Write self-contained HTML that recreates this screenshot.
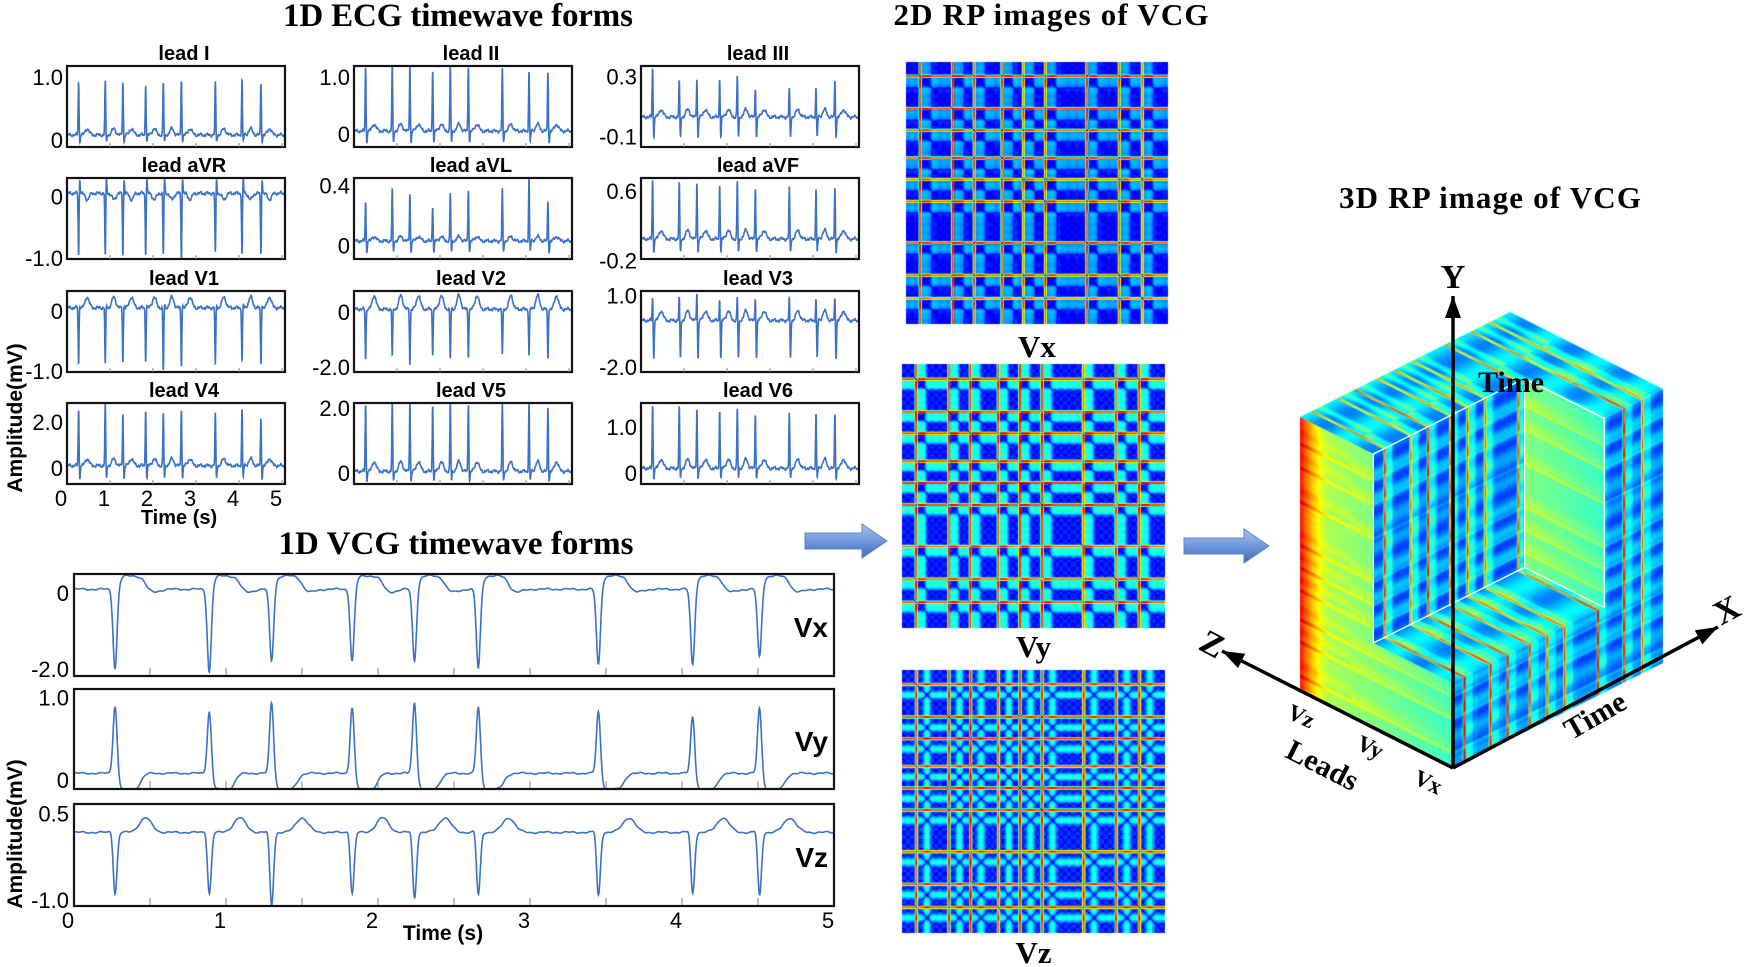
<!DOCTYPE html>
<html><head><meta charset="utf-8">
<style>
html,body{margin:0;padding:0;background:#fff;}
#wrap{position:relative;width:1748px;height:967px;overflow:hidden;background:#fff;}
canvas,svg{position:absolute;left:0;top:0;}
text{font-family:"Liberation Sans",sans-serif;}
.serif{font-family:"Liberation Serif",serif;font-weight:bold;}
</style></head>
<body>
<div id="wrap">
<canvas id="cv" width="1748" height="967"></canvas>
<svg id="sv" width="1748" height="967" xmlns="http://www.w3.org/2000/svg">
<defs>
<linearGradient id="arrowGrad" x1="0" y1="0" x2="0" y2="1">
<stop offset="0" stop-color="#a9c4ee"/><stop offset="0.5" stop-color="#6f97da"/><stop offset="1" stop-color="#3f6bb8"/>
</linearGradient>
</defs>
<text class="serif" x="458" y="26" font-size="33" text-anchor="middle" textLength="350">1D ECG timewave forms</text>
<text class="serif" x="456" y="554" font-size="33" text-anchor="middle" textLength="355">1D VCG timewave forms</text>
<text class="serif" x="1051" y="25" font-size="31" text-anchor="middle" textLength="315">2D RP images of VCG</text>
<text class="serif" x="1490" y="208" font-size="31" text-anchor="middle" textLength="302">3D RP image of VCG</text>
<g id="ecg"></g><g id="vcg"></g><g id="cube"></g>
</svg>
</div>
<script>
// ---------- data ----------
const beats = [0.27, 0.89, 1.30, 1.83, 2.24, 2.66, 3.45, 4.07, 4.51];
const leadNames = ["lead I","lead II","lead III","lead aVR","lead aVL","lead aVF","lead V1","lead V2","lead V3","lead V4","lead V5","lead V6"];
const peaksI   = [0.93,0.94,0.92,0.90,0.90,0.96,0.92,0.96,0.90];
const peaksII  = [1.20,1.20,1.20,1.15,1.20,1.20,1.15,1.10,1.10];
const peaksIII = [0.37,0.28,0.29,0.30,0.31,0.23,0.22,0.23,0.28];
const peaksAVR = [-0.97,-0.98,-0.97,-0.95,-0.96,-1.0,-0.96,-0.97,-0.95];
const peaksAVL = [0.30,0.38,0.35,0.27,0.35,0.38,0.38,0.45,0.30];
const peaksAVF = [0.75,0.70,0.70,0.70,0.72,0.65,0.65,0.63,0.65];
const peaksV1  = [-0.88,-0.90,-0.85,-0.82,-1.0,-0.90,-0.93,-0.85,-0.90];
const peaksV2  = [-1.7,-1.6,-1.9,-1.5,-1.7,-1.6,-1.6,-1.6,-1.7];
const peaksV3  = [1.0,1.0,1.18,0.95,1.0,0.95,0.95,0.9,0.95];
const peaksV4  = [2.6,2.8,2.4,2.6,2.4,2.6,2.4,2.6,2.2];
const peaksV5  = [2.15,2.15,2.15,2.15,2.15,2.15,2.15,2.15,2.05];
const peaksV6  = [1.5,1.45,1.4,1.4,1.4,1.3,1.3,1.3,1.3];
const leadPeaks = [peaksI,peaksII,peaksIII,peaksAVR,peaksAVL,peaksAVF,peaksV1,peaksV2,peaksV3,peaksV4,peaksV5,peaksV6];
const leadBase  = [0.08,0.05,0.03,0.05,0.03,0.05,0.05,0.1,-0.05,0.1,0.05,0.1];
const leadS     = [-0.12,-0.22,-0.14,0.25,-0.08,-0.16,0.05,0,-1.6,-0.6,-0.33,-0.24];
const leadT     = [0.1,0.12,0.05,-0.1,0.03,0.1,0.18,0.5,0.4,0.3,0.3,0.2];
const leadMin   = [-0.11,-0.23,-0.17,-1.02,-0.09,-0.18,-1.02,-2.18,-2.2,-0.7,-0.34,-0.24];
const leadMax   = [1.17,1.19,0.37,0.30,0.45,0.75,0.33,0.76,1.18,2.83,2.15,1.52];
const leadTickA = [0,0,-0.1,-1.0,0,-0.2,-1.0,-2.0,-2.0,0,0,0];
const leadTickB = [1.0,1.0,0.3,0,0.4,0.6,0,0,1.0,2.0,2.0,1.0];
const leadTickLabA = ["0","0","-0.1","-1.0","0","-0.2","-1.0","-2.0","-2.0","0","0","0"];
const leadTickLabB = ["1.0","1.0","0.3","0","0.4","0.6","0","0","1.0","2.0","2.0","1.0"];
const ecgXTicks = [0,1,2,3,4,5];

const vcgNames = ["Vx","Vy","Vz"];
const peaksVx = [-2.0,-2.1,-1.8,-1.8,-1.8,-2.0,-1.9,-1.9,-1.7];
const peaksVy = [0.90,0.83,0.94,0.88,0.94,0.88,0.83,0.77,0.87];
const peaksVz = [-0.9,-0.9,-1.1,-0.9,-0.98,-0.92,-0.93,-0.9,-0.94];
const vcgPeaks = [peaksVx,peaksVy,peaksVz];
const vcgBase = [0.1,0.08,0.17];
const vcgPlateau = [0.35,-0.2,0];
const vcgT = [-0.08,0,0.25];
const vcgMin = [-2.18,-0.11,-1.1];
const vcgMax = [0.5,1.1,0.66];
const vcgTickA = [-2.0,0,-1.0];
const vcgTickB = [0,1.0,0.5];
const vcgTickLabA = ["-2.0","0","-1.0"];
const vcgTickLabB = ["0","1.0","0.5"];
const vcgXTicks = [0,1,2,3,4,5];

// ---------- signal model ----------
function gau(x,m,w){return Math.exp(-0.5*((x-m)/w)*((x-m)/w));}
function sg(x){return 1/(1+Math.exp(-x));}
function ecgVal(t,i){
  const base=leadBase[i], pk=leadPeaks[i], rng=leadMax[i]-leadMin[i];
  let v=base+rng*(0.012*Math.sin(t*37)+0.008*Math.sin(t*91+1)+0.006*Math.sin(t*173+2));
  for(let k=0;k<beats.length;k++){
    const dt=t-beats[k]; if(dt<-0.3||dt>0.6) continue;
    v+=(pk[k]-base)*gau(dt,0,0.010)+leadS[i]*gau(dt,0.026,0.011)+leadT[i]*gau(dt,0.2,0.045);
  }
  return v;
}
function vcgVal(t,i){
  const base=vcgBase[i], pk=vcgPeaks[i], rng=vcgMax[i]-vcgMin[i];
  let v=base+rng*(0.006*Math.sin(t*41)+0.004*Math.sin(t*113+1));
  for(let k=0;k<beats.length;k++){
    const dt=t-beats[k]; if(dt<-0.3||dt>0.7) continue;
    v+=(pk[k]-base)*gau(dt,0,0.013);
    if(i===0) v+=vcgPlateau[0]*sg((dt-0.03)/0.01)*sg((0.2-dt)/0.015)+vcgT[0]*gau(dt,0.25,0.04);
    if(i===1) v+=vcgPlateau[1]*sg((dt-0.025)/0.008)*sg((0.17-dt)/0.015);
    if(i===2) v+=vcgT[2]*gau(dt,0.2,0.04)+0.12*gau(dt,-0.02,0.01);
  }
  return v;
}

const NS="http://www.w3.org/2000/svg";
function mk(tag,attrs,parent,txt){const e=document.createElementNS(NS,tag);for(const k in attrs)e.setAttribute(k,attrs[k]);if(txt!==undefined)e.textContent=txt;parent.appendChild(e);return e;}
const svg=document.getElementById('sv');
const ecgG=document.getElementById('ecg');
const vcgG=document.getElementById('vcg');
const LINE="#3c72c6";

// ---------- ECG panels ----------
const colX=[67,354,641], rowY=[66,178,291,403], PW=218, PH=81, PXS=43;
for(let i=0;i<12;i++){
  const L=colX[i%3], T=rowY[Math.floor(i/3)];
  const yS=v=>T+PH-(v-leadMin[i])/(leadMax[i]-leadMin[i])*PH;
  const xS=t=>L+t*PXS;
  const cp=mk('clipPath',{id:'cp'+i},svg);
  mk('rect',{x:L,y:T,width:PW,height:PH},cp);
  let pts=[];
  for(let t=0;t<=PW/PXS;t+=0.004){pts.push(xS(t).toFixed(1)+","+yS(ecgVal(t,i)).toFixed(1));}
  const line=mk('polyline',{points:pts.join(" "),fill:"none",stroke:LINE,"stroke-width":1.6,"clip-path":"url(#cp"+i+")"},ecgG);
  
  
  const fr=mk('rect',{x:L,y:T,width:PW,height:PH,fill:"none",stroke:"#111","stroke-width":2.2},ecgG);
  
  
  const tt=mk('text',{x:L+PW/2+8,y:T-6,"font-size":20,"font-weight":"bold","text-anchor":"middle"},ecgG,leadNames[i]);
  
  
  const ta=mk('text',{x:L-4,y:yS(leadTickA[i])+8,"font-size":22,"text-anchor":"end"},ecgG,leadTickLabA[i]);
  
  
  const tb=mk('text',{x:L-4,y:yS(leadTickB[i])+8,"font-size":22,"text-anchor":"end"},ecgG,leadTickLabB[i]);
  
  
  for(let s=1;s<=5;s++){mk('line',{x1:xS(s),x2:xS(s),y1:T+PH,y2:T+PH-4,stroke:"#888","stroke-width":1},ecgG);}
  if(i===9){
    ecgXTicks.forEach(v=>{
      const xl=mk('text',{x:xS(v)-6,y:T+PH+22,"font-size":22,"text-anchor":"middle"},ecgG,String(v));
      
      
    });
  }
}
let ex=mk('text',{x:179,y:524,"font-size":20,"font-weight":"bold","text-anchor":"middle"},ecgG,"Time (s)");


let ey=mk('text',{x:0,y:0,"font-size":21,"font-weight":"bold","text-anchor":"middle",transform:"translate(22,418) rotate(-90)"},ecgG,"Amplitude(mV)");



// ---------- VCG panels ----------
const vL=74, vR=834, vTop=[574,689,804], vH=[102,100,102], vXS=(vR-vL)/5;
for(let i=0;i<3;i++){
  const T=vTop[i], H=vH[i];
  const yS=v=>T+H-(v-vcgMin[i])/(vcgMax[i]-vcgMin[i])*H;
  const xS=t=>vL+t*vXS;
  const cp=mk('clipPath',{id:'vcp'+i},svg);
  mk('rect',{x:vL,y:T,width:vR-vL,height:H},cp);
  let pts=[];
  for(let t=0;t<=5;t+=0.003){pts.push(xS(t).toFixed(1)+","+yS(vcgVal(t,i)).toFixed(1));}
  const line=mk('polyline',{points:pts.join(" "),fill:"none",stroke:LINE,"stroke-width":1.6,"clip-path":"url(#vcp"+i+")"},vcgG);
  
  
  for(let s=0.5;s<5;s+=0.5){mk('line',{x1:xS(s),x2:xS(s),y1:T+H,y2:T+H-8,stroke:"#999","stroke-width":1.2},vcgG);}
  const fr=mk('rect',{x:vL,y:T,width:vR-vL,height:H,fill:"none",stroke:"#111","stroke-width":2.2},vcgG);
  
  
  const ta=mk('text',{x:vL-5,y:yS(vcgTickA[i])+8,"font-size":22,"text-anchor":"end"},vcgG,vcgTickLabA[i]);
  
  
  const tb=mk('text',{x:vL-5,y:yS(vcgTickB[i])+8,"font-size":22,"text-anchor":"end"},vcgG,vcgTickLabB[i]);
  
  
  const nl=mk('text',{x:828,y:T+H/2+12,"font-size":28,"font-weight":"bold","text-anchor":"end"},vcgG,vcgNames[i]);
  
  
}
vcgXTicks.forEach(v=>{
  const xl=mk('text',{x:vL+v*vXS-6,y:928,"font-size":22,"text-anchor":"middle"},vcgG,String(v));
  
  
});
let vx=mk('text',{x:443,y:940,"font-size":21,"font-weight":"bold","text-anchor":"middle"},vcgG,"Time (s)");


let vy=mk('text',{x:0,y:0,"font-size":21,"font-weight":"bold","text-anchor":"middle",transform:"translate(22,834) rotate(-90)"},vcgG,"Amplitude(mV)");



// ---------- arrows ----------
function arrow(x0,x1,yc,name){
  const hx=x1-25;
  const a=mk('polygon',{points:`${x0},${yc-8} ${hx},${yc-8} ${hx},${yc-17} ${x1},${yc} ${hx},${yc+17} ${hx},${yc+8} ${x0},${yc+8}`,fill:"url(#arrowGrad)",stroke:"#5d86cc","stroke-width":1},svg);
  
  
}
arrow(805,887,541,'arrow-to-2d-rp');
arrow(1184,1269,546,'arrow-to-3d-rp');

// ---------- RP images (canvas) ----------
const cv=document.getElementById('cv'), ctx=cv.getContext('2d');
function jet(v){v=Math.max(0,Math.min(1,v));const c=x=>Math.max(0,Math.min(1,1.5-Math.abs(x)));return [c(4*v-3)*255,c(4*v-2)*255,c(4*v-1)*255];}
function sampleSig(i,n){
  const arr=[];const base=vcgBase[i];
  for(let p=0;p<n;p++){let best=base;for(let q=0;q<6;q++){const t=(p+q/6)*5/n;const v=vcgVal(t,i);if(Math.abs(v-base)>Math.abs(best-base))best=v;}arr.push(best);}
  return arr;
}
const rpBoxes=[[906,62,262,262],[902,364,263,264],[902,670,263,263]];
const rpLabelY=[357,657,963];
for(let i=0;i<3;i++){
  const [x0,y0,w,h]=rpBoxes[i];
  const s=sampleSig(i,w), rng=vcgMax[i]-vcgMin[i];
  const img=ctx.createImageData(w,h);
  for(let r=0;r<h;r++){const a=s[Math.min(w-1,Math.floor(r*w/h))];
    for(let c=0;c<w;c++){const d=Math.abs(a-s[c])/rng;
      let v=0.1+0.85*Math.pow(d,0.75);
      if(i===1) v=0.1+0.9*Math.pow(d,0.6);
      if(i===2) v=0.1+0.9*Math.pow(d,0.55);
      const col=jet(v);const o=(r*w+c)*4;img.data[o]=col[0];img.data[o+1]=col[1];img.data[o+2]=col[2];img.data[o+3]=255;}}
  ctx.putImageData(img,x0,y0);
  const lb=mk('text',{x:x0+w/2,y:rpLabelY[i],"font-size":31,"text-anchor":"middle",class:"serif"},svg,vcgNames[i]);
  
  
}

// ---------- 3D cube ----------
const O={x:1453,y:768}, Xv={x:210,y:-105}, Zv={x:-153,y:-77}, Yv={x:0,y:-274};
function P(x,z,y){return {x:O.x+x*Xv.x+z*Zv.x+y*Yv.x, y:O.y+x*Xv.y+z*Zv.y+y*Yv.y};}
const N=200;
const sx=sampleSig(0,N), sy=sampleSig(1,N), sz=sampleSig(2,N);
const sigs=[sx,sy,sz];
function norm(i,k){return (sigs[i][k]-vcgMin[i])/(vcgMax[i]-vcgMin[i]);}
function makeTex(fn){const c=document.createElement('canvas');c.width=N;c.height=N;const cx=c.getContext('2d');const im=cx.createImageData(N,N);
  for(let r=0;r<N;r++)for(let q=0;q<N;q++){const col=jet(fn(q,r));const o=(r*N+q)*4;im.data[o]=col[0];im.data[o+1]=col[1];im.data[o+2]=col[2];im.data[o+3]=255;}
  cx.putImageData(im,0,0);return c;}
function rpTex(i){return makeTex((q,r)=>{const d=Math.abs(sigs[i][q]-sigs[i][r])/(vcgMax[i]-vcgMin[i]);
  const dq=Math.abs(sigs[i][q]-vcgBase[i])/(vcgMax[i]-vcgMin[i]);
  return 0.22+0.1*Math.sin(r*0.35)*0.5+0.7*Math.pow(dq,0.9)+0.1*Math.sqrt(d);});}
const leftTex=makeTex((q,r)=>{const z=q/N;const li=Math.min(2,Math.floor(z*3));const d=Math.abs(norm(li,r)-norm(li,0));
  return 0.42+0.14*z+0.12*Math.sqrt(d)+0.3*Math.pow(Math.max(0,(z-0.8)/0.2),1.6);});
const topTex=makeTex((q,r)=>{const z=r/N;const li=Math.min(2,Math.floor(z*3));const d=Math.abs(sigs[li][q]-vcgBase[li])/(vcgMax[li]-vcgMin[li]);
  return 0.3+0.6*Math.pow(d,0.8)+0.06*Math.sin(z*20);});
const rpVx=rpTex(0), rpVy=rpTex(1);
function face(tex,u0,u1,v0,v1,P0,U,V){
  ctx.save();ctx.setTransform(U.x,U.y,V.x,V.y,P0.x,P0.y);
  ctx.drawImage(tex,u0*N,v0*N,(u1-u0)*N,(v1-v0)*N,0,0,1,1);ctx.restore();}
function sc(v,k){return {x:v.x*k,y:v.y*k};}
face(leftTex,0,1,0,1,P(0,0,0),Zv,Yv);
face(rpVx,0,1,0,1,P(0,0,0),Xv,Yv);
face(topTex,0,1,0,1,P(0,0,1),Xv,Zv);
const cx0=0.72, cz0=0.52, cy0=0.31;
face(topTex,0,cx0,0,cz0,P(0,0,cy0),sc(Xv,cx0),sc(Zv,cz0));
face(leftTex,0,cz0,cy0,1,P(cx0,0,cy0),sc(Zv,cz0),sc(Yv,1-cy0));
face(rpVy,0,cx0,cy0,1,P(0,cz0,cy0),sc(Xv,cx0),sc(Yv,1-cy0));
const cubeG=document.getElementById('cube');
function pstr(a){return a.map(p=>p.x.toFixed(1)+","+p.y.toFixed(1)).join(" ");}
let ed=mk('polyline',{points:pstr([P(0,cz0,1),P(0,cz0,cy0),P(cx0,cz0,cy0),P(cx0,0,cy0),P(cx0,0,1),P(cx0,cz0,1),P(0,cz0,1)]),fill:"none",stroke:"#fff","stroke-width":1.3},cubeG);


ed=mk('line',{x1:P(cx0,cz0,cy0).x,y1:P(cx0,cz0,cy0).y,x2:P(cx0,cz0,1).x,y2:P(cx0,cz0,1).y,stroke:"#fff","stroke-width":1.2},cubeG);


function axArrow(x1,y1,x2,y2,name){
  const l=mk('line',{x1,y1,x2,y2,stroke:"#000","stroke-width":3.5},cubeG);
  
  
  const ang=Math.atan2(y2-y1,x2-x1),L=22,W=8;
  const bx=x2-L*Math.cos(ang),by=y2-L*Math.sin(ang);
  const hd=mk('polygon',{points:`${x2},${y2} ${bx+W*Math.sin(ang)},${by-W*Math.cos(ang)} ${bx-W*Math.sin(ang)},${by+W*Math.cos(ang)}`,fill:"#000"},cubeG);
  
  
}
axArrow(1453,768,1453,296,'y-axis');
axArrow(1453,768,1222,651,'z-axis');
axArrow(1453,768,1718,627,'x-axis');
function lab(txt,x,y,fs,rot,name){
  const t=mk('text',{x:0,y:0,"font-size":fs,"text-anchor":"middle",class:"serif",transform:`translate(${x},${y}) rotate(${rot})`},cubeG,txt);
  
  
}
lab("Y",1453,288,34,0,'y-axis-label');
lab("Z",1207,654,34,28,'z-axis-label');
lab("X",1732,620,34,-28,'x-axis-label');
lab("Time",1511,392,30,0,'y-axis-time-label');
lab("Time",1600,724,30,-30,'x-axis-time-label');
lab("Vz",1298,723,23,25,'lead-vz-label');
lab("Vy",1367,754,23,25,'lead-vy-label');
lab("Vx",1425,789,23,25,'lead-vx-label');
lab("Leads",1318,774,30,27,'leads-axis-label');
</script>
</body></html>
